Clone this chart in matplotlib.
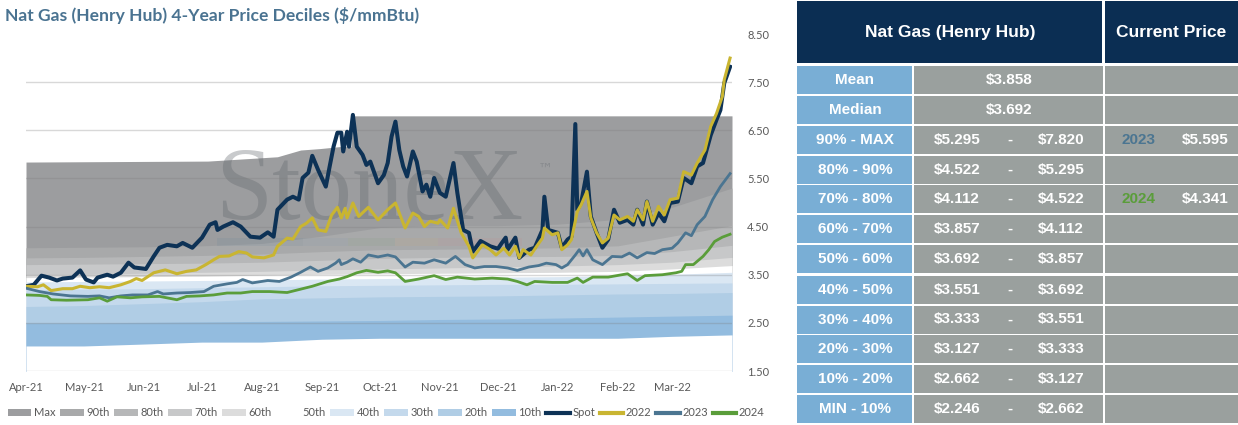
import matplotlib
matplotlib.use('Agg')
import matplotlib.pyplot as plt
from matplotlib.patches import Rectangle, Patch
from matplotlib.lines import Line2D
import matplotlib.dates as mdates
import pandas as pd

# ---- data -----------------------------------------------------------------
START = pd.Timestamp('2021-04-01')

# day offsets (from Apr 1 2021) and prices
spot_days = [0, 4, 8, 12, 16, 19, 24, 28, 31, 35, 37, 42, 45, 49, 53, 56, 62, 66, 69, 73,
             78, 81, 86, 91, 95, 98, 99, 102, 107, 111, 116, 121, 125, 128, 130, 135, 138,
             141, 143, 146, 148, 151, 155, 157, 159, 161, 163, 164, 166, 167, 169, 171,
             174, 176, 178, 182, 185, 187, 189, 191, 193, 195, 197, 200, 202, 205, 207,
             209, 211, 214, 217, 219, 221, 223, 226, 229, 231, 235, 240, 244, 246, 248,
             249, 253, 255, 260, 263, 267, 268, 270, 275, 277, 280, 282, 284, 285, 287,
             290, 292, 295, 298, 301, 304, 307, 311, 314, 316, 319, 321, 324, 327, 330,
             333, 337, 340, 344, 347, 350, 354, 357, 359, 361, 364]
spot_vals = [3.26, 3.29, 3.48, 3.44, 3.38, 3.42, 3.44, 3.59, 3.40, 3.34, 3.44, 3.50, 3.46,
             3.54, 3.75, 3.65, 3.62, 3.88, 4.06, 4.12, 4.09, 4.16, 4.06, 4.27, 4.54, 4.59,
             4.43, 4.50, 4.59, 4.50, 4.29, 4.27, 4.38, 4.29, 4.85, 5.06, 5.12, 5.06, 5.51,
             5.62, 5.97, 5.68, 5.33, 5.75, 6.16, 6.45, 6.45, 6.06, 6.47, 6.16, 6.82, 6.16,
             5.99, 5.78, 5.85, 5.40, 5.57, 5.82, 6.37, 6.68, 6.09, 5.75, 5.54, 6.06, 5.85,
             5.23, 5.37, 5.12, 5.51, 5.20, 5.12, 5.47, 5.82, 5.20, 4.43, 4.37, 3.98, 4.20,
             4.09, 4.04, 4.16, 4.27, 4.02, 4.27, 3.85, 4.02, 4.06, 4.43, 5.12, 4.43, 4.37,
             4.06, 4.23, 4.29, 6.63, 4.85, 4.99, 5.64, 4.71, 4.37, 4.06, 4.23, 4.85, 4.58,
             4.64, 4.54, 4.85, 4.54, 5.02, 4.54, 4.78, 4.61, 4.99, 5.02, 5.51, 5.40, 5.75,
             5.82, 6.40, 6.72, 6.92, 7.48, 7.82]

y2022_days = [0, 6, 9, 13, 19, 24, 28, 33, 38, 43, 49, 54, 57, 60, 66, 72, 78, 83, 88, 93,
              97, 100, 105, 110, 114, 117, 123, 128, 130, 135, 138, 142, 145, 148, 151, 155,
              158, 161, 163, 165, 166, 169, 172, 177, 182, 187, 191, 193, 196, 200, 203,
              206, 209, 213, 214, 218, 221, 225, 229, 231, 236, 240, 243, 247, 250, 253,
              255, 257, 261, 264, 267, 268, 272, 275, 277, 280, 282, 285, 287, 290, 292,
              295, 298, 301, 304, 307, 311, 314, 316, 319, 321, 324, 327, 330, 333, 337,
              340, 344, 347, 351, 354, 357, 360, 361, 364]
y2022_vals = [3.26, 3.25, 3.29, 3.17, 3.21, 3.21, 3.26, 3.23, 3.25, 3.23, 3.29, 3.36, 3.42,
              3.38, 3.54, 3.60, 3.52, 3.57, 3.60, 3.71, 3.81, 3.88, 3.89, 3.98, 3.95, 3.87,
              3.85, 3.91, 4.09, 4.26, 4.24, 4.50, 4.57, 4.68, 4.43, 4.40, 4.74, 4.90, 4.68,
              4.88, 4.68, 4.99, 4.71, 4.90, 4.64, 4.85, 4.99, 4.78, 4.47, 4.78, 4.71, 4.50,
              4.61, 4.57, 4.64, 4.47, 4.88, 4.37, 4.09, 3.85, 4.12, 4.02, 3.91, 4.05, 3.91,
              4.09, 3.85, 4.02, 3.91, 4.09, 4.26, 4.47, 4.33, 4.37, 4.02, 4.12, 4.23, 4.81,
              4.95, 5.23, 4.68, 4.37, 4.16, 4.26, 4.74, 4.64, 4.71, 4.61, 4.85, 4.64, 5.02,
              4.61, 4.92, 4.74, 5.06, 5.09, 5.64, 5.57, 5.82, 6.09, 6.58, 6.85, 7.20, 7.55,
              8.00]

y2023_days = [0, 7, 14, 23, 32, 38, 43, 49, 55, 63, 68, 71, 78, 85, 92, 97, 104, 109, 112,
              117, 125, 131, 137, 142, 147, 151, 156, 160, 162, 163, 166, 169, 173, 177, 182,
              187, 191, 196, 200, 206, 211, 217, 222, 227, 232, 237, 243, 249, 254, 260,
              265, 269, 274, 277, 280, 284, 286, 288, 290, 293, 298, 303, 308, 312, 316,
              321, 325, 329, 334, 337, 341, 344, 347, 351, 355, 359, 364]
y2023_vals = [3.22, 3.15, 3.10, 3.06, 3.05, 3.06, 3.02, 3.06, 3.08, 3.08, 3.15, 3.10, 3.12,
              3.13, 3.15, 3.26, 3.31, 3.34, 3.40, 3.33, 3.38, 3.36, 3.45, 3.55, 3.66, 3.57,
              3.64, 3.74, 3.81, 3.71, 3.76, 3.83, 3.76, 3.91, 3.87, 3.91, 3.87, 3.66, 3.76,
              3.74, 3.81, 3.74, 3.88, 3.71, 3.64, 3.67, 3.67, 3.64, 3.59, 3.66, 3.69, 3.74,
              3.71, 3.64, 3.71, 3.91, 4.02, 3.89, 4.02, 3.81, 3.71, 3.88, 3.87, 3.95, 3.85,
              3.96, 3.94, 4.02, 4.05, 4.16, 4.37, 4.31, 4.54, 4.71, 5.06, 5.33, 5.60]

y2024_days = [0, 7, 11, 13, 21, 32, 38, 42, 47, 54, 60, 69, 78, 83, 90, 97, 104, 111, 117,
              126, 135, 142, 148, 156, 162, 166, 171, 176, 182, 187, 191, 196, 203, 211,
              217, 223, 232, 241, 249, 254, 259, 263, 272, 280, 285, 288, 293, 301, 311,
              316, 320, 329, 336, 339, 341, 345, 350, 353, 356, 360, 364]
y2024_vals = [3.08, 3.07, 3.05, 2.98, 2.97, 2.98, 3.02, 2.95, 3.04, 3.02, 3.04, 3.05, 2.98,
              3.05, 3.06, 3.08, 3.12, 3.12, 3.15, 3.15, 3.13, 3.20, 3.26, 3.36, 3.41, 3.46,
              3.54, 3.59, 3.55, 3.58, 3.54, 3.36, 3.41, 3.48, 3.40, 3.45, 3.41, 3.43, 3.41,
              3.36, 3.29, 3.36, 3.34, 3.34, 3.43, 3.34, 3.45, 3.45, 3.52, 3.38, 3.48, 3.50,
              3.54, 3.57, 3.71, 3.71, 3.88, 4.02, 4.19, 4.28, 4.34]

# decile band edges (monthly), plus the stepped max envelope
band_days = [0, 30, 61, 91, 122, 153, 183, 214, 244, 275, 306, 334, 365]
p90 = [4.06, 4.07, 4.08, 4.10, 4.15, 4.30, 4.48, 4.52, 4.52, 4.55, 4.65, 4.90, 5.30]
p80 = [3.85, 3.86, 3.88, 3.90, 3.93, 3.98, 4.02, 4.03, 4.04, 4.06, 4.10, 4.30, 4.52]
p70 = [3.71, 3.72, 3.73, 3.74, 3.76, 3.80, 3.84, 3.86, 3.87, 3.88, 3.90, 3.98, 4.11]
p60 = [3.50, 3.51, 3.53, 3.55, 3.57, 3.60, 3.62, 3.64, 3.66, 3.68, 3.71, 3.76, 3.86]
p50 = [3.44, 3.45, 3.46, 3.47, 3.49, 3.51, 3.52, 3.53, 3.54, 3.55, 3.57, 3.62, 3.69]
p40 = [3.35, 3.36, 3.37, 3.38, 3.39, 3.41, 3.42, 3.43, 3.45, 3.46, 3.48, 3.51, 3.55]
p30 = [3.19, 3.20, 3.21, 3.23, 3.25, 3.27, 3.28, 3.29, 3.30, 3.30, 3.31, 3.32, 3.33]
p20 = [2.84, 2.86, 2.90, 2.94, 3.00, 3.02, 3.04, 3.05, 3.06, 3.08, 3.10, 3.11, 3.13]
p10 = [2.50, 2.50, 2.51, 2.52, 2.53, 2.54, 2.55, 2.57, 2.58, 2.60, 2.62, 2.64, 2.66]
pmin = [2.02, 2.02, 2.06, 2.10, 2.10, 2.16, 2.18, 2.18, 2.18, 2.18, 2.18, 2.22, 2.25]
max_days = [0, 94, 110, 130, 142, 152, 162, 168, 169, 365]
pmax = [5.84, 5.86, 5.90, 5.95, 6.09, 6.12, 6.16, 6.16, 6.80, 6.80]

# table
table_title = 'Nat Gas (Henry Hub)'
mean_val = '$3.858'
median_val = '$3.692'
range_labels = ['90% - MAX', '80% - 90%', '70% - 80%', '60% - 70%', '50% - 60%',
                '40% - 50%', '30% - 40%', '20% - 30%', '10% - 20%', 'MIN - 10%']
range_low = ['$5.295', '$4.522', '$4.112', '$3.857', '$3.692',
             '$3.551', '$3.333', '$3.127', '$2.662', '$2.246']
range_high = ['$7.820', '$5.295', '$4.522', '$4.112', '$3.857',
              '$3.692', '$3.551', '$3.333', '$3.127', '$2.662']
current = {0: ('2023', '$5.595'), 2: ('2024', '$4.341')}

# ---- styles ---------------------------------------------------------------
BAND_COLORS = {
    'Max': '#9c9d9f', '90th': '#a8a9aa', '80th': '#b6b7b8', '70th': '#c7c8c9',
    '60th': '#dcdcdc', '50th': '#ffffff', '40th': '#dae7f3', '30th': '#c4d9ec',
    '20th': '#b0cde5', '10th': '#93bcdf',
}
SPOT_C = '#0d3256'
C2022 = '#c9b531'
C2023 = '#4b7591'
C2024 = '#5a9d3a'
NAVY = '#0b2e53'
CELL_BLUE = '#79aed5'
CELL_GRAY = '#9aa09e'
TEXT_GRAY = '#595959'


def to_dates(days):
    return START + pd.to_timedelta(days, unit='D')


W, H = 1238, 425
fig = plt.figure(figsize=(W / 100, H / 100), dpi=100, facecolor='white')

# ---- chart ----------------------------------------------------------------
ax = fig.add_axes([26 / W, (H - 371) / H, 706 / W, 337 / H])
ax.set_facecolor('white')

bd = to_dates(band_days)
ax.fill_between(to_dates(max_days), pmax, 0, color=BAND_COLORS['Max'], lw=0, zorder=1)
layers = [('90th', p90), ('80th', p80), ('70th', p70), ('60th', p60), ('50th', p50),
          ('40th', p40), ('30th', p30), ('20th', p20), ('10th', p10)]
for name, vals in layers:
    ax.fill_between(bd, vals, 0, color=BAND_COLORS[name], lw=0, zorder=1)
ax.fill_between(bd, pmin, 0, color='white', lw=0, zorder=1)

# StoneX watermark
ax.text(0.268, 0.45, 'StoneX', transform=ax.transAxes, fontsize=74,
        family='Liberation Serif', color='#62676d', alpha=0.35, zorder=2,
        ha='left', va='baseline')
ax.text(0.725, 0.585, '\u2122', transform=ax.transAxes, fontsize=11,
        family='DejaVu Sans', color='#62676d', alpha=0.35, zorder=2)
bar_segments = [(217, 303, '#5d7f98'), (303, 348, '#7e97ab'), (348, 395, '#7a9a7a'),
                (395, 438, '#c8a66e'), (438, 522, '#c98585')]
for x0, x1, c in bar_segments:
    ax.add_patch(Rectangle(((x0 - 26) / 706, (371 - 246) / 337), (x1 - x0) / 706, 8 / 337,
                           transform=ax.transAxes, color=c, alpha=0.13, lw=0, zorder=2))

# gridlines on top of the bands
for yv in range(2, 9):
    ax.axhline(yv - 0.5, color='#7f7f7f', alpha=0.3, lw=1, zorder=3)

ax.plot(to_dates(spot_days), spot_vals, color=SPOT_C, lw=2.9, zorder=4,
        solid_joinstyle='round')
ax.plot(to_dates(y2022_days), y2022_vals, color=C2022, lw=2.2, zorder=5,
        solid_joinstyle='round')
ax.plot(to_dates(y2023_days), y2023_vals, color=C2023, lw=2.0, zorder=6,
        solid_joinstyle='round')
ax.plot(to_dates(y2024_days), y2024_vals, color=C2024, lw=2.0, zorder=7,
        solid_joinstyle='round')

ax.set_xlim(START, START + pd.Timedelta(days=365))
ax.set_ylim(1.5, 8.5)
ax.set_yticks([1.5, 2.5, 3.5, 4.5, 5.5, 6.5, 7.5, 8.5])
ax.yaxis.set_major_formatter(matplotlib.ticker.FormatStrFormatter('%.2f'))
ax.yaxis.tick_right()
ax.xaxis.set_major_locator(mdates.MonthLocator())
ax.xaxis.set_major_formatter(mdates.DateFormatter('%b-%y'))
ax.set_xlim(START, START + pd.Timedelta(days=365))
ticks = ax.get_xticks()
ax.set_xticks(ticks[:-1])
ax.tick_params(axis='both', length=0, labelsize=8, labelcolor=TEXT_GRAY)
ax.tick_params(axis='y', pad=11)
ax.tick_params(axis='x', pad=8)
for lab in ax.get_xticklabels() + ax.get_yticklabels():
    lab.set_family('Lato')
for s in ax.spines.values():
    s.set_visible(False)

fig.text(5 / W, 1 - 15 / H, 'Nat Gas (Henry Hub) 4-Year Price Deciles ($/mmBtu)',
         fontsize=12.6, fontweight='bold', color='#4a7391', family='Lato',
         ha='left', va='center')

# legend
handles = [Patch(facecolor=BAND_COLORS[k], edgecolor='none', label=k)
           for k in ['Max', '90th', '80th', '70th', '60th', '50th',
                     '40th', '30th', '20th', '10th']]
handles += [Line2D([], [], color=SPOT_C, lw=3, label='Spot'),
            Line2D([], [], color=C2022, lw=3, label='2022'),
            Line2D([], [], color=C2023, lw=3, label='2023'),
            Line2D([], [], color=C2024, lw=3, label='2024')]
leg = fig.legend(handles=handles, ncol=14, loc='center left',
                 bbox_to_anchor=(8 / W, 12 / H), frameon=False,
                 prop={'family': 'Lato', 'size': 8}, handlelength=2.1,
                 handleheight=0.55, handletextpad=0.25, columnspacing=0.42,
                 borderaxespad=0, borderpad=0)
for t in leg.get_texts():
    t.set_color(TEXT_GRAY)

# ---- table ----------------------------------------------------------------
tx = fig.add_axes([0, 0, 1, 1], facecolor='none')
tx.set_xlim(0, W)
tx.set_ylim(H, 0)
tx.axis('off')

tfont = dict(family='Liberation Sans', fontweight='bold', color='white',
             ha='center', va='center')

tx.add_patch(Rectangle((797, 1), 305, 62, color=NAVY, lw=0))
tx.add_patch(Rectangle((1105, 1), 133, 62, color=NAVY, lw=0))
tx.text(950, 32, table_title, fontsize=12.5, **tfont)
tx.text(1171, 32, 'Current Price', fontsize=12.5, **tfont)

row_tops = [66, 96, 126, 155.5, 185, 215, 245, 276, 305.5, 335, 365, 395]
row_h = 28
for i, top in enumerate(row_tops):
    tx.add_patch(Rectangle((797, top), 115, row_h, color=CELL_BLUE, lw=0))
    tx.add_patch(Rectangle((914, top), 189, row_h, color=CELL_GRAY, lw=0))
    tx.add_patch(Rectangle((1105, top), 133, row_h, color=CELL_GRAY, lw=0))

cy = [t + row_h / 2 for t in row_tops]
tx.text(855, cy[0], 'Mean', fontsize=11, **tfont)
tx.text(1009, cy[0], mean_val, fontsize=11, **tfont)
tx.text(855, cy[1], 'Median', fontsize=11, **tfont)
tx.text(1009, cy[1], median_val, fontsize=11, **tfont)
for i, (lab, lo, hi) in enumerate(zip(range_labels, range_low, range_high)):
    y = cy[i + 2]
    tx.text(855, y, lab, fontsize=11, **tfont)
    tx.text(957, y, lo, fontsize=11, **tfont)
    tx.text(1010, y, '-', fontsize=11, **tfont)
    tx.text(1061, y, hi, fontsize=11, **tfont)
    if i in current:
        yr, price = current[i]
        col = C2023 if yr == '2023' else C2024
        tx.text(1138, y, yr, fontsize=11, **{**tfont, 'color': col})
        tx.text(1205, y, price, fontsize=11, **tfont)

fig.savefig('out.png', dpi=100, facecolor='white')
